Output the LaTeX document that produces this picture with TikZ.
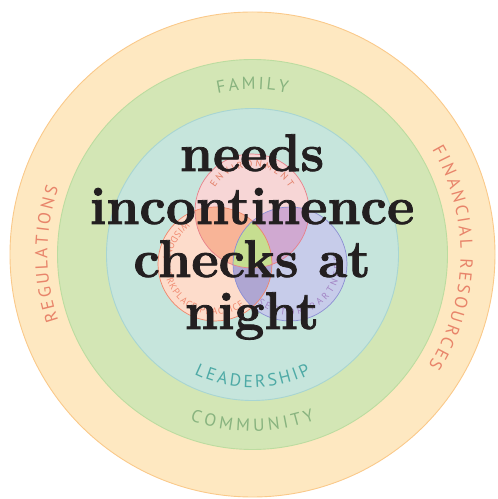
\documentclass[tikz,border=0pt]{standalone}
\usepackage{fontspec}
\newfontfamily\lblfont{PT Sans}
\newfontfamily\bigfont{Latin Modern Roman}[BoldFeatures={FakeBold=1.5}]
\usetikzlibrary{decorations.text,calc}
\definecolor{outerfill}{HTML}{FEE8C1}
\definecolor{outerline}{HTML}{FAC98A}
\definecolor{greenfill}{HTML}{D3E6B5}
\definecolor{greenline}{HTML}{BCDCA0}
\definecolor{tealfill}{HTML}{C6E5DC}
\definecolor{tealline}{HTML}{A8D5D2}
\definecolor{pinkfill}{HTML}{F7D6D6}
\definecolor{pinkline}{HTML}{E8808A}
\definecolor{orangefill}{HTML}{FDDCCB}
\definecolor{orangeline}{HTML}{F0856A}
\definecolor{bluefill}{HTML}{C7CCEA}
\definecolor{blueline}{HTML}{8C8FD3}
\definecolor{povl}{HTML}{F8B497}
\definecolor{pbovl}{HTML}{D0A9D1}
\definecolor{obovl}{HTML}{AFA6D2}
\definecolor{midovl}{HTML}{C6DE90}
\definecolor{famcol}{HTML}{88B37F}
\definecolor{leadcol}{HTML}{4EAAA6}
\definecolor{regcol}{HTML}{E8846A}
\definecolor{envcol}{HTML}{E27E66}
\definecolor{wiscol}{HTML}{F08A70}
\definecolor{partcol}{HTML}{A283C4}
\definecolor{bigtext}{HTML}{231F20}
\tikzset{
  ringlabel/.style n args={3}{decorate, decoration={text effects along path,
      text={#1}, text align=center,
      text effects/.cd,
        text along path,
        character widths={inner xsep=#3, font=\lblfont\fontsize{17.5}{18}\selectfont},
        characters={text=#2, font=\lblfont\fontsize{17.5}{18}\selectfont}}},
  smalllabel/.style n args={3}{decorate, decoration={text effects along path,
      text={#1}, text align=center,
      text effects/.cd,
        text along path,
        character widths={inner xsep=#3, font=\lblfont\fontsize{9.5}{10}\selectfont},
        characters={text=#2, font=\lblfont\fontsize{9.5}{10}\selectfont}}},
  bigline/.style={anchor=base, text=bigtext, inner sep=0pt,
      font=\bigfont\fontsize{53}{53}\selectfont\bfseries},
}
\begin{document}
\begin{tikzpicture}[x=1pt,y=1pt]
\useasboundingbox (0,0) rectangle (498,499);
\coordinate (C) at (252.5,244.5);
\coordinate (P) at (252,288);
\coordinate (O) at (215,235);
\coordinate (B) at (290,235);
% rings
\fill[outerfill] (C) circle[radius=242.5pt];
\draw[outerline, line width=0.9pt] (C) circle[radius=242.5pt];
\fill[greenfill] (C) circle[radius=195pt];
\draw[greenline, line width=0.9pt] (C) circle[radius=195pt];
\fill[tealfill] (C) circle[radius=146pt];
\draw[tealline, line width=0.9pt] (C) circle[radius=146pt];
% venn fills
\fill[pinkfill] (P) circle[radius=57pt];
\fill[orangefill] (O) circle[radius=57pt];
\fill[bluefill] (B) circle[radius=57pt];
\begin{scope}
  \clip (P) circle[radius=57pt];
  \fill[povl] (O) circle[radius=57pt];
  \fill[pbovl] (B) circle[radius=57pt];
\end{scope}
\begin{scope}
  \clip (O) circle[radius=57pt];
  \fill[obovl] (B) circle[radius=57pt];
\end{scope}
\begin{scope}
  \clip (P) circle[radius=57pt];
  \clip (O) circle[radius=57pt];
  \fill[midovl] (B) circle[radius=57pt];
\end{scope}
\draw[pinkline, line width=0.7pt] (P) circle[radius=57pt];
\draw[orangeline, line width=0.7pt] (O) circle[radius=57pt];
\draw[blueline, line width=0.7pt] (B) circle[radius=57pt];
% ring labels
\path[ringlabel={FAMILY}{famcol}{1.3pt}] ($(C)+(150:165pt)$) arc[start angle=150, end angle=30, radius=165pt];
\path[ringlabel={COMMUNITY}{famcol}{1.9pt}] ($(C)+(210:177pt)$) arc[start angle=210, end angle=330, radius=177pt];
\path[ringlabel={LEADERSHIP}{leadcol}{1.4pt}] ($(C)+(205:133pt)$) arc[start angle=205, end angle=335, radius=133pt];
\path[ringlabel={REGULATIONS}{regcol}{1.3pt}] ($(C)+(240:205pt)$) arc[start angle=240, end angle=120, radius=205pt];
\path[ringlabel={FINANCIAL RESOURCES}{regcol}{1.35pt}] ($(C)+(60:208pt)$) arc[start angle=60, end angle=-62, radius=208pt];
% venn labels
\path[smalllabel={ENVIRONMENT}{envcol}{1.3pt}] ($(P)+(165:44pt)$) arc[start angle=165, end angle=15, radius=44pt];
\path[smalllabel={WISDOM, WORKPLACE PRACTICE}{wiscol}{0.5pt}] ($(O)+(110:51pt)$) arc[start angle=110, end angle=320, radius=51pt];
\path[smalllabel={SECTOR PARTNERS}{partcol}{1.6pt}] ($(B)+(200:51pt)$) arc[start angle=200, end angle=400, radius=51pt];
% main text
\node[bigline] (l1) at (252,328) {needs};
\node[bigline] (l2) at (252,275) {incontinence};
\node[bigline] (l3) at (252,222) {checks at};
\node[bigline] (l4) at (252,170) {night};
\end{tikzpicture}
\end{document}
